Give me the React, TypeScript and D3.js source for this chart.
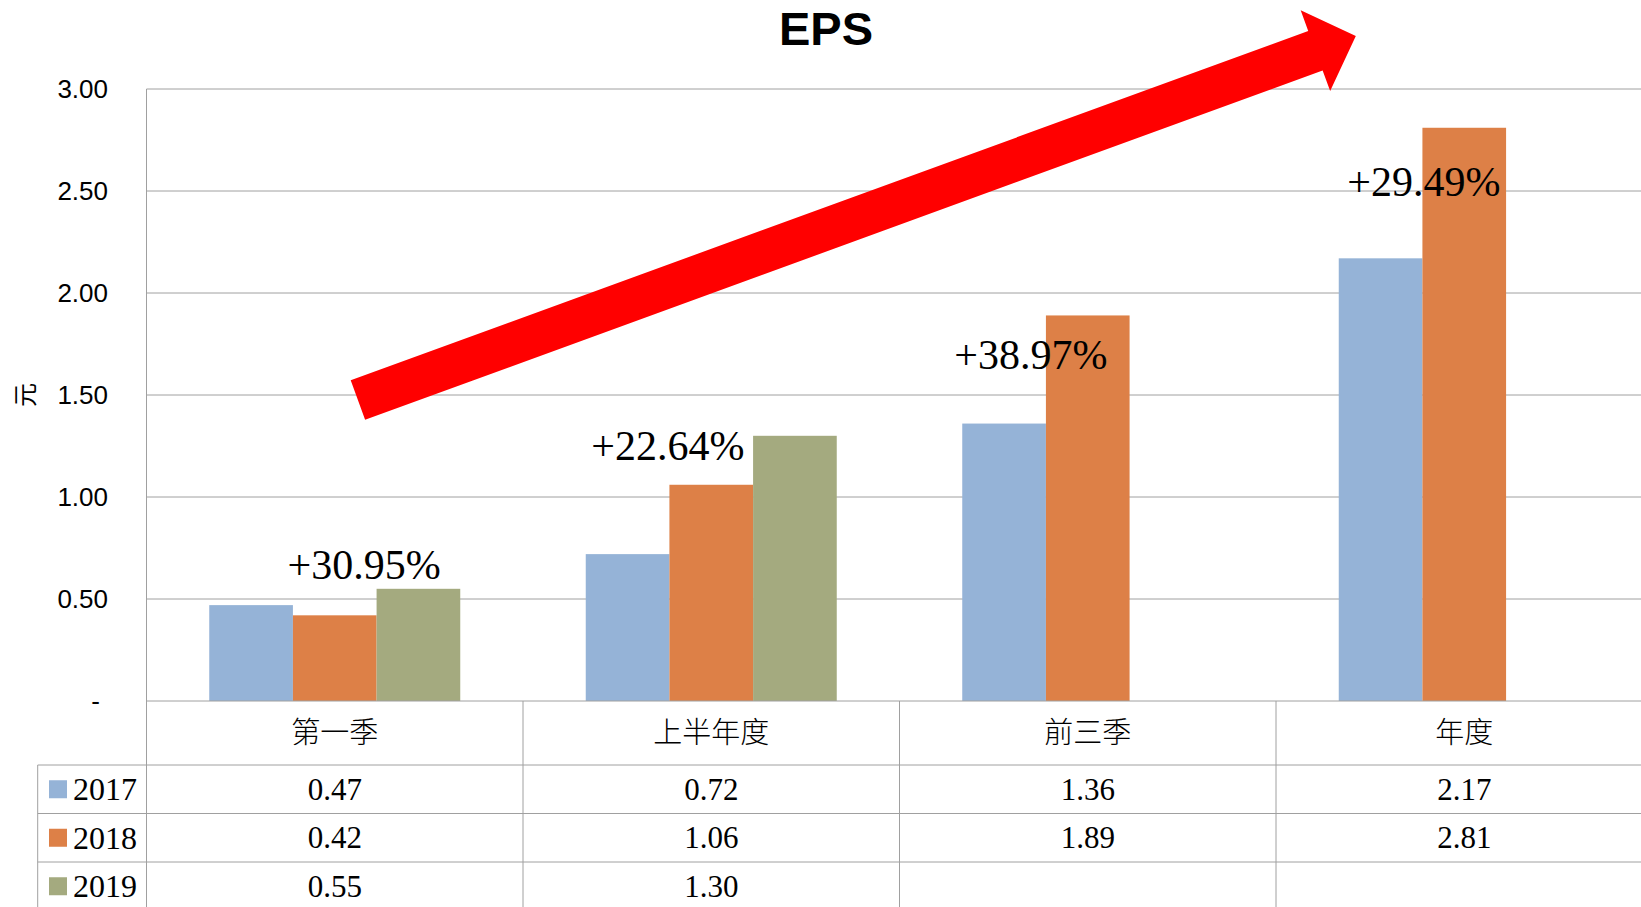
import * as d3 from "d3";

// chart data
const categories = ["第一季", "上半年度", "前三季", "年度"];
const seriesNames = ["2017", "2018", "2019"];
const eps2017 = [0.47, 0.72, 1.36, 2.17];
const eps2018 = [0.42, 1.06, 1.89, 2.81];
const eps2019: (number | null)[] = [0.55, 1.3, null, null];
const growthLabels = ["+30.95%", "+22.64%", "+38.97%", "+29.49%"];
const yTicks = [0, 0.5, 1, 1.5, 2, 2.5, 3];

const seriesValues = [eps2017, eps2018, eps2019];
const COLORS = ["#95B3D7", "#DD8047", "#A4AA7F"];

// layout of the hand-placed annotations (band fraction, value units)
const GROWTH_POS = [
  { fx: 0.578, v: 0.598 },
  { fx: 0.385, v: 1.18 },
  { fx: 0.349, v: 1.627 },
  { fx: 0.393, v: 2.475 },
];
const ARROW = { from: [0.5615, 1.475], to: [3.212, 3.26], shaft: 42, headW: 86, headL: 43 };

const W = 1641;
const H = 907;
const plotLeft = 146.5;
const step = 376.5;
const plotTop = 89;
const plotBottom = 701;
const headerBottom = 765;
const rowH = 48.5;
const tableLeft = 37.7;
const gridColor = "#A0A0A0";
const serif = "'Liberation Serif', 'DejaVu Serif', serif";
const sans = "'Liberation Sans', Arial, sans-serif";
const cjk = "'Noto Sans CJK TC', 'Noto Sans CJK SC', sans-serif";

export default function App() {
  const x = d3
    .scaleBand<string>()
    .domain(categories)
    .range([plotLeft, plotLeft + step * categories.length])
    .paddingInner(0)
    .paddingOuter(0);
  const x1 = d3
    .scaleBand<string>()
    .domain(seriesNames)
    .range([0, x.bandwidth()])
    .paddingInner(0)
    .paddingOuter(0.75);
  const y = d3.scaleLinear().domain([0, 3]).range([plotBottom, plotTop]);
  const xPos = (t: number) => plotLeft + t * x.step();

  // arrow polygon
  const p0: [number, number] = [xPos(ARROW.from[0]), y(ARROW.from[1])];
  const p1: [number, number] = [xPos(ARROW.to[0]), y(ARROW.to[1])];
  const dx = p1[0] - p0[0];
  const dy = p1[1] - p0[1];
  const len = Math.hypot(dx, dy);
  const u = [dx / len, dy / len];
  const n = [-u[1], u[0]];
  const base = [p1[0] - u[0] * ARROW.headL, p1[1] - u[1] * ARROW.headL];
  const off = (p: number[], k: number): [number, number] => [p[0] + n[0] * k, p[1] + n[1] * k];
  const arrowPts: [number, number][] = [
    off(p0, ARROW.shaft / 2),
    off(base, ARROW.shaft / 2),
    off(base, ARROW.headW / 2),
    p1,
    off(base, -ARROW.headW / 2),
    off(base, -ARROW.shaft / 2),
    off(p0, -ARROW.shaft / 2),
  ];
  const arrowPath = d3.line()(arrowPts) + "Z";

  const right = x.range()[1];
  const rowTops = seriesNames.map((_, i) => headerBottom + i * rowH);

  return (
    <svg
      width={W}
      height={H}
      style={{ position: "absolute", left: 0, top: 0, background: "#fff" }}
    >
      {/* title */}
      <text x={826} y={45} textAnchor="middle" fontFamily={sans} fontWeight="bold" fontSize={47}>
        EPS
      </text>

      {/* grid */}
      {yTicks.filter((t) => t > 0).map((t) => (
        <line key={t} x1={plotLeft} x2={right} y1={y(t)} y2={y(t)} stroke={gridColor} strokeWidth={1} />
      ))}
      <line x1={plotLeft} x2={plotLeft} y1={plotTop} y2={H} stroke={gridColor} />

      {/* y ticks */}
      {yTicks.map((t) => (
        <text
          key={t}
          x={t === 0 ? 100 : 108}
          y={y(t)}
          dy="0.35em"
          textAnchor="end"
          fontFamily={sans}
          fontSize={26}
        >
          {t === 0 ? "-" : d3.format(".2f")(t)}
        </text>
      ))}
      <text
        transform={`translate(26,${y(1.5)}) rotate(-90)`}
        textAnchor="middle"
        dy="0.35em"
        fontFamily={cjk}
        fontSize={24}
      >
        元
      </text>

      {/* bars */}
      {seriesValues.map((vals, si) =>
        vals.map((v, ci) =>
          v == null ? null : (
            <rect
              key={`${si}-${ci}`}
              x={(x(categories[ci]) ?? 0) + (x1(seriesNames[si]) ?? 0)}
              y={y(v)}
              width={x1.bandwidth()}
              height={y(0) - y(v)}
              fill={COLORS[si]}
            />
          )
        )
      )}

      {/* baseline */}
      <line x1={plotLeft} x2={right} y1={y(0)} y2={y(0)} stroke={gridColor} />

      {/* arrow */}
      <path d={arrowPath} fill="#FF0000" />

      {/* growth annotations */}
      {growthLabels.map((s, i) => (
        <text
          key={s}
          x={(x(categories[i]) ?? 0) + GROWTH_POS[i].fx * x.bandwidth()}
          y={y(GROWTH_POS[i].v)}
          textAnchor="middle"
          fontFamily={serif}
          fontSize={42}
        >
          {s}
        </text>
      ))}

      {/* data table */}
      {categories.map((c) => (
        <line
          key={c}
          x1={(x(c) ?? 0) + x.bandwidth()}
          x2={(x(c) ?? 0) + x.bandwidth()}
          y1={plotBottom}
          y2={H}
          stroke={gridColor}
        />
      ))}
      <line x1={tableLeft} x2={tableLeft} y1={headerBottom} y2={H} stroke={gridColor} />
      {rowTops.map((t, i) => (
        <line key={i} x1={tableLeft} x2={right} y1={t} y2={t} stroke={gridColor} />
      ))}
      {categories.map((c) => (
        <text
          key={c}
          x={(x(c) ?? 0) + x.bandwidth() / 2}
          y={(plotBottom + headerBottom) / 2}
          dy="0.36em"
          textAnchor="middle"
          fontFamily={cjk}
          fontWeight={300}
          fontSize={29}
        >
          {c}
        </text>
      ))}
      {seriesNames.map((s, si) => (
        <g key={s}>
          <rect x={49} y={rowTops[si] + rowH / 2 - 9} width={18} height={18} fill={COLORS[si]} />
          <text x={73} y={rowTops[si] + rowH / 2} dy="0.34em" fontFamily={serif} fontSize={32}>
            {s}
          </text>
          {seriesValues[si].map((v, ci) =>
            v == null ? null : (
              <text
                key={ci}
                x={(x(categories[ci]) ?? 0) + x.bandwidth() / 2}
                y={rowTops[si] + rowH / 2}
                dy="0.34em"
                textAnchor="middle"
                fontFamily={serif}
                fontSize={31}
              >
                {d3.format(".2f")(v)}
              </text>
            )
          )}
        </g>
      ))}
    </svg>
  );
}
